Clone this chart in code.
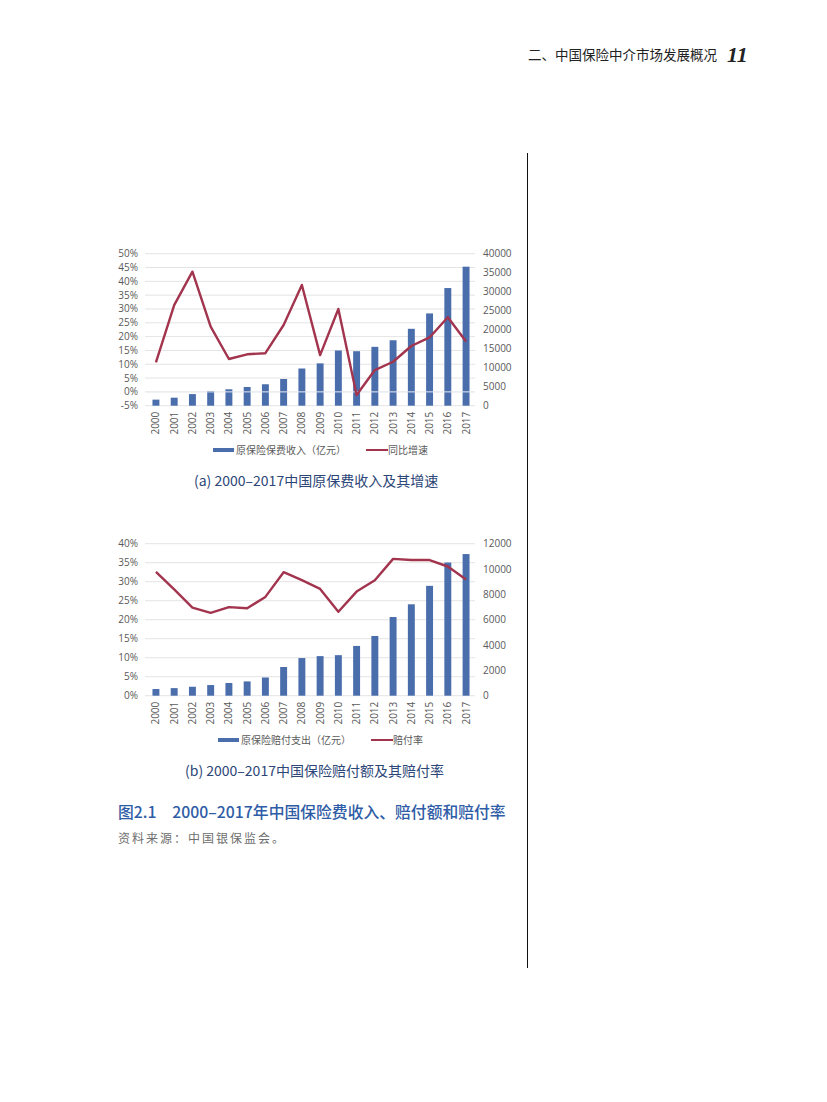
<!DOCTYPE html>
<html>
<head>
<meta charset="utf-8">
<script src="https://cdn.jsdelivr.net/npm/d3@7"></script>
<style>
	body { margin: 0; background: #fff; }
	svg { display: block; }
</style>
</head>
<body>
<div id="page"></div>
<script>
// data
const years = ["2000", "2001", "2002", "2003", "2004", "2005", "2006", "2007", "2008", "2009",
	"2010", "2011", "2012", "2013", "2014", "2015", "2016", "2017"];

const premium = [1596, 2109, 3054, 3880, 4318, 4928, 5641, 7036, 9784, 11137,
	14528, 14339, 15488, 17222, 20235, 24283, 30959, 36581];
const premiumGrowth = [10.7, 31.4, 43.5, 23.6, 11.9, 13.6, 14.0, 24.2, 38.7, 13.3,
	30.0, -1.1, 7.9, 10.9, 16.6, 19.7, 27.0, 18.2];

const claims = [527, 598, 707, 841, 1004, 1129, 1438, 2265, 2971, 3125,
	3200, 3929, 4716, 6213, 7216, 8674, 10513, 11181];
const claimRatio = [32.6, 28.0, 23.2, 21.8, 23.3, 23.0, 26.0, 32.5, 30.4, 28.1,
	22.1, 27.4, 30.4, 36.0, 35.7, 35.7, 34.0, 30.6];

const pctTicksA = [-5, 0, 5, 10, 15, 20, 25, 30, 35, 40, 45, 50];
const valTicksA = [0, 5000, 10000, 15000, 20000, 25000, 30000, 35000, 40000];
const pctTicksB = [0, 5, 10, 15, 20, 25, 30, 35, 40];
const valTicksB = [0, 2000, 4000, 6000, 8000, 10000, 12000];

const headerText = "二、中国保险中介市场发展概况";
const pageNo = "11";
const captionA = "(a)  2000–2017中国原保费收入及其增速";
const captionB = "(b)  2000–2017中国保险赔付额及其赔付率";
const legendA = ["原保险保费收入（亿元）", "同比增速"];
const legendB = ["原保险赔付支出（亿元）", "赔付率"];
const figTitle = "图2.1　2000–2017年中国保险费收入、赔付额和赔付率";
const sourceText = "资料来源：中国银保监会。";

const width = 827;
const height = 1102;
const barColor = "#4a6dab";
const lineColor = "#a2344e";
const labelColor = "#595959";
const cjk = "'Noto Sans CJK SC', 'Noto Sans', sans-serif";

const svg = d3
	.select("#page")
	.append("svg")
	.attr("width", width)
	.attr("height", height)
	.style("background", "#fff");

// page header and column rule
svg
	.append("text")
	.attr("x", 528)
	.attr("y", 60)
	.style("font-family", cjk)
	.style("font-size", "13.5px")
	.attr("fill", "#222")
	.text(headerText);

svg
	.append("text")
	.attr("x", 727)
	.attr("y", 62)
	.style("font-family", "'Liberation Serif', serif")
	.style("font-size", "22px")
	.style("font-weight", "bold")
	.style("font-style", "italic")
	.attr("fill", "#222")
	.text(pageNo);

svg
	.append("line")
	.attr("x1", 527.5)
	.attr("x2", 527.5)
	.attr("y1", 153)
	.attr("y2", 968)
	.attr("stroke", "#111")
	.attr("stroke-width", 1);

// one combo chart: bars on the right axis, line on the left axis
function drawChart(cfg) {
	const g = svg.append("g");

	const xScale = d3
		.scaleBand()
		.domain(years)
		.range([147, 475])
		.paddingInner(0.62)
		.paddingOuter(0.3);

	const yPct = d3
		.scaleLinear()
		.domain([cfg.pctTicks[0], cfg.pctTicks[cfg.pctTicks.length - 1]])
		.range([cfg.bottom, cfg.top]);

	const yVal = d3
		.scaleLinear()
		.domain([cfg.valTicks[0], cfg.valTicks[cfg.valTicks.length - 1]])
		.range([cfg.bottom, cfg.top]);

	// gridlines
	g.selectAll("line.grid")
		.data(cfg.pctTicks)
		.enter()
		.append("line")
		.attr("class", "grid")
		.attr("x1", 145)
		.attr("x2", 475)
		.attr("y1", (d) => yPct(d))
		.attr("y2", (d) => yPct(d))
		.attr("stroke", "#dcdcdc")
		.attr("stroke-width", 0.8);

	// left axis labels
	g.selectAll("text.left")
		.data(cfg.pctTicks)
		.enter()
		.append("text")
		.attr("class", "left")
		.attr("x", 138)
		.attr("y", (d) => yPct(d))
		.attr("dy", "0.35em")
		.attr("text-anchor", "end")
		.style("font-family", "'Open Sans', sans-serif")
		.style("font-size", "10px")
		.attr("fill", labelColor)
		.text((d) => d + "%");

	// right axis labels
	g.selectAll("text.right")
		.data(cfg.valTicks)
		.enter()
		.append("text")
		.attr("class", "right")
		.attr("x", 483)
		.attr("y", (d) => yVal(d))
		.attr("dy", "0.35em")
		.style("font-family", "'Open Sans', sans-serif")
		.style("font-size", "10px")
		.attr("fill", labelColor)
		.text((d) => d);

	// bars
	g.selectAll("rect.bar")
		.data(cfg.bars)
		.enter()
		.append("rect")
		.attr("class", "bar")
		.attr("x", (d, i) => xScale(years[i]))
		.attr("y", (d) => yVal(d))
		.attr("width", xScale.bandwidth())
		.attr("height", (d) => yVal(0) - yVal(d))
		.attr("fill", barColor);

	// category axis line at 0%
	if (cfg.pctTicks[0] < 0) {
		g.append("line")
			.attr("x1", 145)
			.attr("x2", 475)
			.attr("y1", yPct(0))
			.attr("y2", yPct(0))
			.attr("stroke", "#e8ecf3")
			.attr("stroke-width", 1);
	}

	// year labels
	g.selectAll("text.year")
		.data(years)
		.enter()
		.append("text")
		.attr("class", "year")
		.attr("transform", (d) => `translate(${xScale(d) + xScale.bandwidth() / 2}, ${cfg.bottom + 6}) rotate(-90)`)
		.attr("text-anchor", "end")
		.attr("dy", "0.35em")
		.style("font-family", "'Open Sans', sans-serif")
		.style("font-size", "10px")
		.attr("fill", labelColor)
		.text((d) => d);

	// line
	const line = d3
		.line()
		.x((d, i) => xScale(years[i]) + xScale.bandwidth() / 2)
		.y((d) => yPct(d));

	g.append("path")
		.datum(cfg.line)
		.attr("d", line)
		.attr("fill", "none")
		.attr("stroke", lineColor)
		.attr("stroke-width", 2.4)
		.attr("stroke-linejoin", "round");

	// legend
	const legend = g.append("g").attr("transform", `translate(${cfg.legendX}, ${cfg.legendY})`);

	legend
		.append("rect")
		.attr("x", 0)
		.attr("y", -2)
		.attr("width", 21)
		.attr("height", 4)
		.attr("fill", barColor);

	const t1 = legend
		.append("text")
		.attr("x", 23)
		.attr("dy", "0.35em")
		.style("font-family", cjk)
		.style("font-size", "10px")
		.attr("fill", labelColor)
		.text(cfg.legend[0]);

	const lx = 23 + t1.node().getComputedTextLength() + 20;

	legend
		.append("line")
		.attr("x1", lx)
		.attr("x2", lx + 22)
		.attr("stroke", lineColor)
		.attr("stroke-width", 2);

	legend
		.append("text")
		.attr("x", lx + 22)
		.attr("dy", "0.35em")
		.style("font-family", cjk)
		.style("font-size", "10px")
		.attr("fill", labelColor)
		.text(cfg.legend[1]);

	// sub caption
	svg
		.append("text")
		.attr("x", cfg.captionX)
		.attr("y", cfg.captionY)
		.attr("dy", "0.35em")
		.style("font-family", cjk)
		.style("font-size", "14px")
		.attr("fill", "#2c4677")
		.text(cfg.caption);
}

drawChart({
	top: 253.7,
	bottom: 405.7,
	pctTicks: pctTicksA,
	valTicks: valTicksA,
	bars: premium,
	line: premiumGrowth,
	legend: legendA,
	legendX: 213,
	legendY: 450,
	caption: captionA,
	captionX: 194,
	captionY: 481,
});

drawChart({
	top: 543.7,
	bottom: 695.7,
	pctTicks: pctTicksB,
	valTicks: valTicksB,
	bars: claims,
	line: claimRatio,
	legend: legendB,
	legendX: 218,
	legendY: 740,
	caption: captionB,
	captionX: 185,
	captionY: 771,
});

// figure title and source
svg
	.append("text")
	.attr("x", 118)
	.attr("y", 812)
	.attr("dy", "0.35em")
	.style("font-family", cjk)
	.style("font-size", "15.8px")
	.style("font-weight", "500")
	.attr("fill", "#2f5ca6")
	.text(figTitle);

svg
	.append("text")
	.attr("x", 118)
	.attr("y", 839)
	.attr("dy", "0.35em")
	.style("font-family", cjk)
	.style("font-size", "12px")
	.style("letter-spacing", "2px")
	.attr("fill", "#6e6e6e")
	.text(sourceText);
</script>
</body>
</html>
